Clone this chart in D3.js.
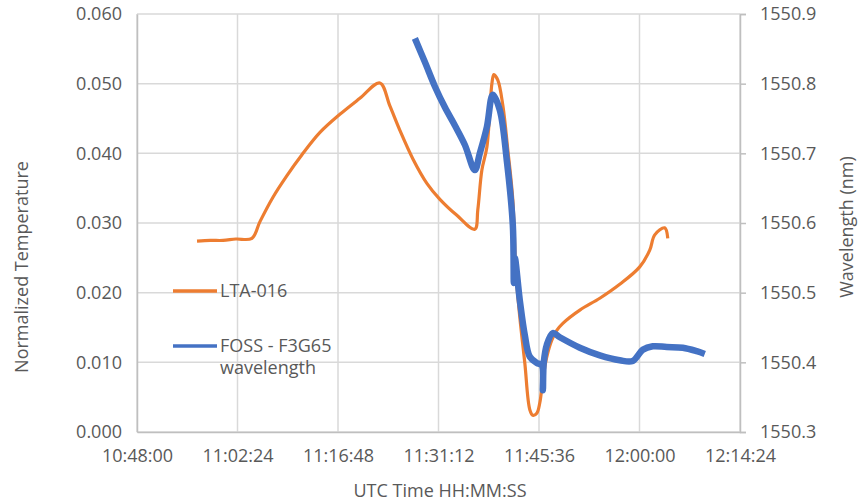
<!DOCTYPE html>
<html>
<head>
<meta charset="utf-8">
<script src="https://cdn.jsdelivr.net/npm/d3@7"></script>
<style>
  body { margin: 0; background: #fff; }
  text { font-family: "Open Sans", "Liberation Sans", sans-serif; fill: #595959; }
</style>
</head>
<body>
<div id="chart"></div>
<script>
// x tick labels (every 14:24)
var xTicks = ["10:48:00", "11:02:24", "11:16:48", "11:31:12", "11:45:36", "12:00:00", "12:14:24"];
var leftTicks = [0, 0.01, 0.02, 0.03, 0.04, 0.05, 0.06];
var rightTicks = [1550.3, 1550.4, 1550.5, 1550.6, 1550.7, 1550.8, 1550.9];

// LTA-016 normalized temperature
var ltaTime = ["10:56:36", "10:58:30", "11:00:20", "11:02:10", "11:04:28", "11:05:37", "11:07:29", "11:09:29",
  "11:11:38", "11:14:13", "11:17:04", "11:19:56", "11:22:48", "11:24:14", "11:25:40", "11:27:32",
  "11:29:32", "11:31:24", "11:33:50", "11:36:24", "11:36:50", "11:37:25", "11:38:08", "11:38:51",
  "11:39:08", "11:39:42", "11:40:25", "11:41:08", "11:41:51", "11:42:17", "11:42:51", "11:43:34",
  "11:44:17", "11:44:43", "11:45:17", "11:45:43", "11:46:09", "11:46:43", "11:47:26", "11:48:09",
  "11:49:01", "11:51:27", "11:54:19", "11:57:10", "12:00:02", "12:01:28", "12:02:11", "12:03:37",
  "12:04:03"];
var ltaValue = [0.0274, 0.0275, 0.0275, 0.0277, 0.0278, 0.0302, 0.0337, 0.0368,
  0.0398, 0.0430, 0.0456, 0.0479, 0.0501, 0.0468, 0.0433, 0.0392,
  0.0357, 0.0334, 0.0311, 0.0291, 0.0319, 0.0376, 0.0409, 0.0500,
  0.0513, 0.0505, 0.0469, 0.0405, 0.0333, 0.0230, 0.0165, 0.0099,
  0.0032, 0.0024, 0.0027, 0.0042, 0.0075, 0.0108, 0.0132, 0.0146,
  0.0156, 0.0175, 0.0192, 0.0212, 0.0237, 0.0261, 0.0283, 0.0293,
  0.0278];

// FOSS - F3G65 wavelength (nm)
var fossTime = ["11:27:49", "11:29:15", "11:30:41", "11:32:07", "11:33:33", "11:34:59", "11:36:24", "11:37:07",
  "11:38:08", "11:38:59", "11:39:59", "11:40:59", "11:41:51", "11:42:00", "11:42:08", "11:42:51",
  "11:43:34", "11:44:17", "11:45:17", "11:46:00", "11:46:09", "11:46:17", "11:46:43", "11:47:35",
  "11:48:35", "11:51:27", "11:54:19", "11:57:10", "11:59:02", "12:00:28", "12:01:54", "12:03:54",
  "12:06:12", "12:08:12", "12:09:21"];
var fossValue = [1550.865, 1550.831, 1550.796, 1550.766, 1550.740, 1550.712, 1550.676, 1550.700,
  1550.738, 1550.784, 1550.762, 1550.690, 1550.597, 1550.514, 1550.550, 1550.489,
  1550.439, 1550.408, 1550.399, 1550.396, 1550.360, 1550.400, 1550.425, 1550.442,
  1550.436, 1550.421, 1550.410, 1550.403, 1550.402, 1550.418, 1550.423, 1550.422,
  1550.421, 1550.416, 1550.412];

var width = 862, height = 503;
var margin = { top: 14, left: 137, right: 122, bottom: 71 };
var parse = d3.timeParse("%H:%M:%S");

var svg = d3.select("#chart").append("svg")
    .attr("width", width)
    .attr("height", height);

var x = d3.scaleTime()
    .domain([parse(xTicks[0]), parse(xTicks[xTicks.length - 1])])
    .range([margin.left, width - margin.right]);
var yL = d3.scaleLinear().domain([0, 0.06]).range([height - margin.bottom, margin.top]);
var yR = d3.scaleLinear().domain([1550.3, 1550.9]).range([height - margin.bottom, margin.top]);

var grid = "#d9d9d9";

// gridlines
svg.append("g").selectAll("line").data(leftTicks).enter().append("line")
    .attr("x1", margin.left).attr("x2", width - margin.right)
    .attr("y1", function(d) { return yL(d); }).attr("y2", function(d) { return yL(d); })
    .style("stroke", grid).style("stroke-width", 1.5);
svg.append("g").selectAll("line").data(xTicks).enter().append("line")
    .attr("x1", function(d) { return x(parse(d)); }).attr("x2", function(d) { return x(parse(d)); })
    .attr("y1", margin.top).attr("y2", height - margin.bottom)
    .style("stroke", grid).style("stroke-width", 1.5);

// axes
var xAxis = svg.append("g")
    .attr("transform", `translate(0,${height - margin.bottom})`)
    .call(d3.axisBottom(x).tickValues(xTicks.map(parse)).tickFormat(d3.timeFormat("%H:%M:%S")).tickSize(0).tickPadding(17));
var yAxisL = svg.append("g")
    .attr("transform", `translate(${margin.left},0)`)
    .call(d3.axisLeft(yL).tickValues(leftTicks).tickFormat(d3.format(".3f")).tickSize(0).tickPadding(15));
var yAxisR = svg.append("g")
    .attr("transform", `translate(${width - margin.right},0)`)
    .call(d3.axisRight(yR).tickValues(rightTicks).tickFormat(d3.format(".1f")).tickSize(6).tickPadding(14));

[xAxis, yAxisL, yAxisR].forEach(function(g) {
    g.select(".domain").style("stroke", "#bfbfbf").style("stroke-width", 1.5);
    g.selectAll(".tick line").style("stroke", "#bfbfbf").style("stroke-width", 1.5);
    g.selectAll("text").style("font-size", "18px").style("fill", "#595959")
        .style("font-family", "'Open Sans', sans-serif");
});

// series
var ltaData = ltaTime.map(function(t, i) { return { t: parse(t), v: ltaValue[i] }; });
var fossData = fossTime.map(function(t, i) { return { t: parse(t), v: fossValue[i] }; });
var smooth = d3.curveCatmullRom.alpha(0.5);

svg.append("path")
    .datum(ltaData)
    .attr("d", d3.line().x(function(d) { return x(d.t); }).y(function(d) { return yL(d.v); }).curve(smooth))
    .style("fill", "none").style("stroke", "#ED7D31").style("stroke-width", 3.2)
    .style("stroke-linejoin", "round");

svg.append("path")
    .datum(fossData)
    .attr("d", d3.line().x(function(d) { return x(d.t); }).y(function(d) { return yR(d.v); }).curve(smooth))
    .style("fill", "none").style("stroke", "#4472C4").style("stroke-width", 6.5)
    .style("stroke-linejoin", "round");

// axis titles
svg.append("text")
    .attr("text-anchor", "middle")
    .attr("transform", "translate(28,267) rotate(-90)")
    .text("Normalized Temperature")
    .style("font-size", "18px");
svg.append("text")
    .attr("text-anchor", "middle")
    .attr("transform", "translate(853,227) rotate(-90)")
    .text("Wavelength (nm)")
    .style("font-size", "18px");
svg.append("text")
    .attr("text-anchor", "middle")
    .attr("x", 440).attr("y", 497)
    .text("UTC Time HH:MM:SS")
    .style("font-size", "18px");

// legend
var legend = [
    { name: ["LTA-016"], color: "#ED7D31", y: 291 },
    { name: ["FOSS - F3G65", "wavelength"], color: "#4472C4", y: 346 }
];
legend.forEach(function(l) {
    svg.append("line")
        .attr("x1", 173).attr("x2", 217).attr("y1", l.y).attr("y2", l.y)
        .style("stroke", l.color).style("stroke-width", 3.5);
    l.name.forEach(function(s, i) {
        svg.append("text")
            .attr("x", 220).attr("y", l.y + 6 + i * 22)
            .text(s)
            .style("font-size", "18px");
    });
});
</script>
</body>
</html>
